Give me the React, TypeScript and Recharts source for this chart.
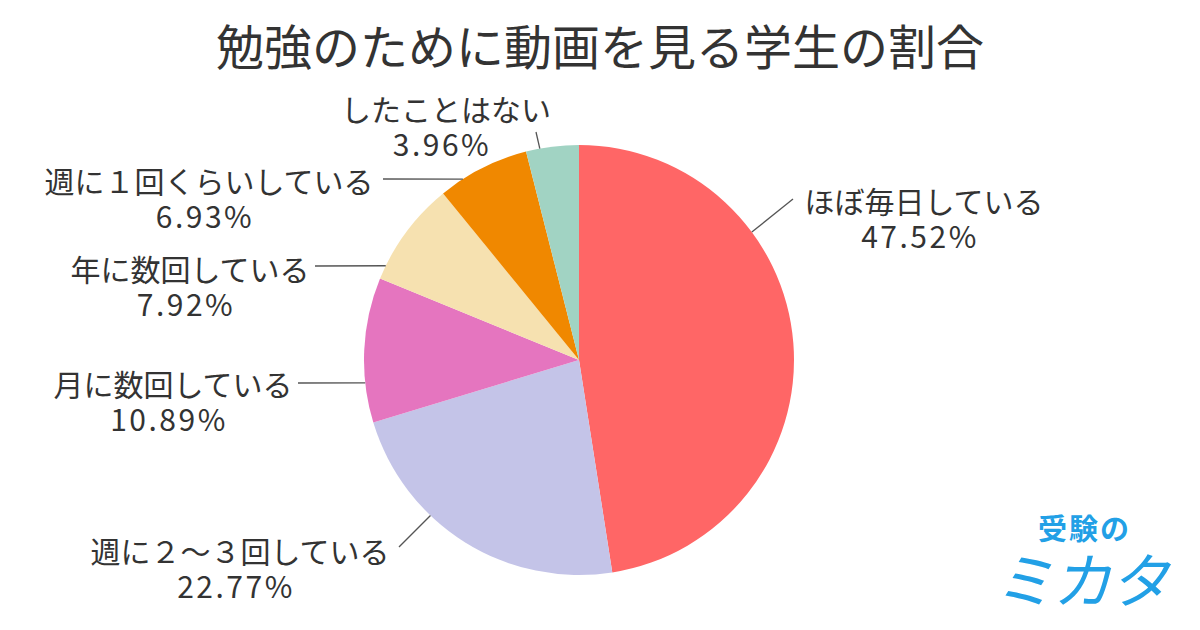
import React from "react";
import { PieChart, Pie, Cell } from "recharts";

const TITLE = "勉強のために動画を見る学生の割合";
const categories = [
  "ほぼ毎日している",
  "週に２〜３回している",
  "月に数回している",
  "年に数回している",
  "週に１回くらいしている",
  "したことはない",
];
const values = [47.52, 22.77, 10.89, 7.92, 6.93, 3.96];
const colors = ["#FF6666", "#C4C4E8", "#E575BF", "#F6E1B0", "#F08800", "#A1D3C3"];

// label layout: leader line start angle on pie edge, line end relative to center,
// name-center offset relative to line end
const labelLayout = [
  { angle: 36.5, end: [214, -161], tx: 131, ty: 1 },
  { angle: 226.3, end: [-180, 187], tx: -159, ty: 3 },
  { angle: 186.1, end: [-281, 23], tx: -125, ty: 0 },
  { angle: 154.0, end: [-264, -94], tx: -125, ty: 2 },
  { angle: 122.7, end: [-196, -181], tx: -174, ty: 1 },
  { angle: 100.5, end: [-43, -228], tx: -90, ty: -24 },
];

const data = categories.map((name, i) => ({ name, value: values[i] }));

const FONT = "'Noto Sans CJK JP', 'Noto Sans', sans-serif";
const RAD = Math.PI / 180;

const renderLabel = (props: any) => {
  const { cx, cy, outerRadius, index } = props;
  const lay = labelLayout[index];
  const sx = cx + outerRadius * Math.cos(-lay.angle * RAD);
  const sy = cy + outerRadius * Math.sin(-lay.angle * RAD);
  const ex = cx + lay.end[0];
  const ey = cy + lay.end[1];
  const nx = ex + lay.tx;
  const ny = ey + lay.ty;
  return (
    <g key={`lbl-${index}`}>
      <line x1={sx} y1={sy} x2={ex} y2={ey} stroke="#555" strokeWidth={1.3} />
      <text
        x={nx}
        y={ny}
        textAnchor="middle"
        dominantBaseline="central"
        fontFamily={FONT}
        fontSize={30}
        fill="#333"
      >
        {categories[index]}
      </text>
      <text
        x={nx - 4}
        y={ny + 35}
        textAnchor="middle"
        dominantBaseline="central"
        fontFamily={FONT}
        fontSize={30}
        letterSpacing={2.5}
        fill="#333"
      >
        {values[index].toFixed(2) + "%"}
      </text>
    </g>
  );
};

export default function App() {
  return (
    <div
      style={{
        position: "absolute",
        left: 0,
        top: 0,
        width: 1200,
        height: 630,
        background: "#fff",
        overflow: "hidden",
      }}
    >
      <div
        style={{
          position: "absolute",
          left: 0,
          top: 12,
          width: 1200,
          textAlign: "center",
          fontFamily: FONT,
          fontSize: 48,
          color: "#333",
          lineHeight: "64px",
        }}
      >
        {TITLE}
      </div>
      <PieChart
        width={1200}
        height={630}
        margin={{ top: 0, right: 0, bottom: 0, left: 0 }}
        style={{ position: "absolute", left: 0, top: 0 }}
      >
        <Pie
          data={data}
          dataKey="value"
          nameKey="name"
          cx={579}
          cy={360}
          outerRadius={215}
          startAngle={90}
          endAngle={-270}
          stroke="none"
          label={renderLabel}
          labelLine={false}
          isAnimationActive={false}
        >
          {data.map((d, i) => (
            <Cell key={d.name} fill={colors[i]} />
          ))}
        </Pie>
      </PieChart>
      <div
        style={{
          position: "absolute",
          left: 1038,
          top: 509,
          fontFamily: FONT,
          fontWeight: 700,
          fontSize: 29,
          color: "#22A0E6",
          lineHeight: "36px",
          letterSpacing: 2,
        }}
      >
        受験の
      </div>
      <div
        style={{
          position: "absolute",
          left: 1000,
          top: 543,
          fontFamily: FONT,
          fontWeight: 400,
          fontSize: 60,
          color: "#22A0E6",
          lineHeight: "68px",
          transform: "skewX(-12deg)",
          letterSpacing: -2,
        }}
      >
        ミカタ
      </div>
    </div>
  );
}
